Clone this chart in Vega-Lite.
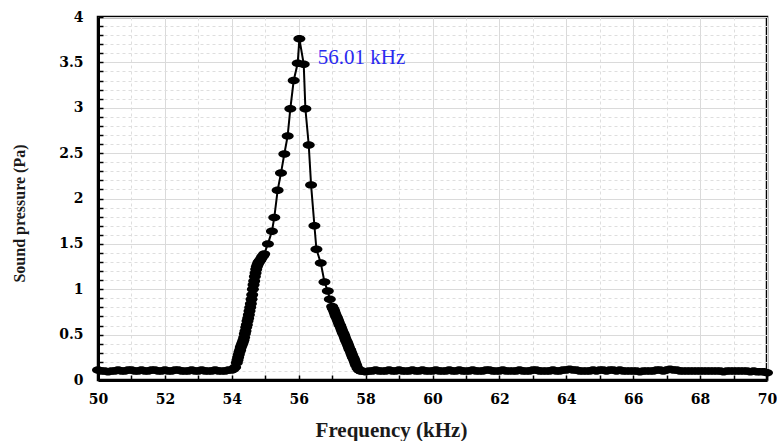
{
  "$schema": "https://vega.github.io/schema/vega-lite/v6.json",
  "width": 669,
  "height": 363,
  "autosize": {"type": "none"},
  "padding": {"left": 98, "top": 17, "right": 10, "bottom": 61},
  "background": "white",
  "config": {
    "view": {"stroke": "black", "strokeWidth": 2.5},
    "axis": {
      "domainColor": "black",
      "domainWidth": 3,
      "tickColor": "black",
      "tickWidth": 1.5,
      "tickSize": -5,
      "labelFlush": false,
      "labelOverlap": false,
      "labelFont": "DejaVu Serif",
      "labelFontWeight": "bold",
      "labelFontSize": 14,
      "labelColor": "black",
      "titleFont": "Liberation Serif",
      "titleFontWeight": "bold",
      "titleColor": "#1a1a1a"
    }
  },
  "encoding": {
    "x": {
      "field": "f", "type": "quantitative",
      "scale": {"domain": [50, 70], "nice": false, "zero": false},
      "axis": {
        "title": "Frequency (kHz)",
        "titleFontSize": 21,
        "titleX": 293,
        "titleY": 56,
        "titleAlign": "center",
        "titleBaseline": "alphabetic",
        "values": [50,51,52,53,54,55,56,57,58,59,60,61,62,63,64,65,66,67,68,69,70],
        "labelExpr": "datum.value % 2 == 0 ? datum.label : ''",
        "labelPadding": 17,
        "gridColor": {"condition": {"test": "datum.value % 2 == 0", "value": "#dadada"}, "value": "#dedede"},
        "gridDash": {"condition": {"test": "datum.value % 2 == 0", "value": []}, "value": [3, 3]},
        "gridWidth": 1
      }
    },
    "y": {
      "field": "p", "type": "quantitative",
      "scale": {"domain": [0, 4], "nice": false},
      "axis": {
        "title": "Sound pressure (Pa)",
        "titleFontSize": 16,
        "titleX": -74,
        "titleY": 196,
        "titleAlign": "center",
        "titleBaseline": "alphabetic",
        "titleAngle": -90,
        "values": [0,0.1,0.2,0.3,0.4,0.5,0.6,0.7,0.8,0.9,1,1.1,1.2,1.3,1.4,1.5,1.6,1.7,1.8,1.9,2,2.1,2.2,2.3,2.4,2.5,2.6,2.7,2.8,2.9,3,3.1,3.2,3.3,3.4,3.5,3.6,3.7,3.8,3.9,4],
        "labelExpr": "abs(round(datum.value*10)) % 5 == 0 ? format(datum.value, '~g') : ''",
        "labelPadding": 20,
        "gridColor": {"condition": {"test": "abs(round(datum.value*10)) % 5 == 0", "value": "#dadada"}, "value": "#dedede"},
        "gridDash": {"condition": {"test": "abs(round(datum.value*10)) % 5 == 0", "value": []}, "value": [3, 3]},
        "gridWidth": 1
      }
    }
  },
  "layer": [
    {
      "data": {
        "values": [
          {"f": 50.0, "p": 0.11}, {"f": 50.1, "p": 0.10}, {"f": 50.2, "p": 0.10}, {"f": 50.3, "p": 0.09}, {"f": 50.4, "p": 0.10},
          {"f": 50.5, "p": 0.10}, {"f": 50.6, "p": 0.11}, {"f": 50.7, "p": 0.10}, {"f": 50.8, "p": 0.10}, {"f": 50.9, "p": 0.11},
          {"f": 51.0, "p": 0.11}, {"f": 51.1, "p": 0.10}, {"f": 51.2, "p": 0.10}, {"f": 51.3, "p": 0.11}, {"f": 51.4, "p": 0.10},
          {"f": 51.5, "p": 0.10}, {"f": 51.6, "p": 0.11}, {"f": 51.7, "p": 0.11}, {"f": 51.8, "p": 0.10}, {"f": 51.9, "p": 0.10},
          {"f": 52.0, "p": 0.11}, {"f": 52.1, "p": 0.10}, {"f": 52.2, "p": 0.10}, {"f": 52.3, "p": 0.11}, {"f": 52.4, "p": 0.11},
          {"f": 52.5, "p": 0.10}, {"f": 52.6, "p": 0.10}, {"f": 52.7, "p": 0.10}, {"f": 52.8, "p": 0.11}, {"f": 52.9, "p": 0.10},
          {"f": 53.0, "p": 0.10}, {"f": 53.1, "p": 0.11}, {"f": 53.2, "p": 0.10}, {"f": 53.3, "p": 0.10}, {"f": 53.4, "p": 0.10},
          {"f": 53.5, "p": 0.11}, {"f": 53.6, "p": 0.10}, {"f": 53.7, "p": 0.10}, {"f": 53.8, "p": 0.10}, {"f": 53.9, "p": 0.11},
          {"f": 54.0, "p": 0.11}, {"f": 54.05, "p": 0.12}, {"f": 54.1, "p": 0.14}, {"f": 54.15, "p": 0.19},
          {"f": 54.17, "p": 0.22}, {"f": 54.19, "p": 0.25}, {"f": 54.21, "p": 0.28}, {"f": 54.23, "p": 0.31}, {"f": 54.25, "p": 0.33},
          {"f": 54.27, "p": 0.36}, {"f": 54.29, "p": 0.38}, {"f": 54.31, "p": 0.40}, {"f": 54.33, "p": 0.42}, {"f": 54.35, "p": 0.44},
          {"f": 54.37, "p": 0.47}, {"f": 54.39, "p": 0.51}, {"f": 54.41, "p": 0.54}, {"f": 54.43, "p": 0.58}, {"f": 54.45, "p": 0.61},
          {"f": 54.47, "p": 0.65}, {"f": 54.49, "p": 0.68}, {"f": 54.51, "p": 0.72}, {"f": 54.53, "p": 0.76}, {"f": 54.55, "p": 0.80},
          {"f": 54.57, "p": 0.84}, {"f": 54.59, "p": 0.89}, {"f": 54.61, "p": 0.94}, {"f": 54.63, "p": 1.00}, {"f": 54.65, "p": 1.05},
          {"f": 54.67, "p": 1.09}, {"f": 54.69, "p": 1.14}, {"f": 54.71, "p": 1.18}, {"f": 54.73, "p": 1.22}, {"f": 54.75, "p": 1.25},
          {"f": 54.77, "p": 1.27}, {"f": 54.79, "p": 1.29}, {"f": 54.81, "p": 1.30}, {"f": 54.83, "p": 1.31}, {"f": 54.85, "p": 1.32},
          {"f": 54.88, "p": 1.34}, {"f": 54.91, "p": 1.36}, {"f": 54.94, "p": 1.37}, {"f": 54.97, "p": 1.39},
          {"f": 55.08, "p": 1.50}, {"f": 55.20, "p": 1.64}, {"f": 55.27, "p": 1.79}, {"f": 55.37, "p": 2.09}, {"f": 55.47, "p": 2.28},
          {"f": 55.57, "p": 2.49}, {"f": 55.67, "p": 2.69}, {"f": 55.75, "p": 2.99}, {"f": 55.85, "p": 3.30}, {"f": 55.97, "p": 3.49},
          {"f": 56.02, "p": 3.76},
          {"f": 56.15, "p": 3.48}, {"f": 56.20, "p": 2.99}, {"f": 56.30, "p": 2.59}, {"f": 56.37, "p": 2.15}, {"f": 56.47, "p": 1.70},
          {"f": 56.53, "p": 1.44}, {"f": 56.66, "p": 1.29}, {"f": 56.77, "p": 1.08}, {"f": 56.87, "p": 0.98}, {"f": 56.93, "p": 0.89},
          {"f": 57.00, "p": 0.81}, {"f": 57.02, "p": 0.79}, {"f": 57.04, "p": 0.78}, {"f": 57.06, "p": 0.76}, {"f": 57.08, "p": 0.74},
          {"f": 57.10, "p": 0.72}, {"f": 57.12, "p": 0.70}, {"f": 57.14, "p": 0.69}, {"f": 57.16, "p": 0.67}, {"f": 57.18, "p": 0.65},
          {"f": 57.20, "p": 0.63}, {"f": 57.22, "p": 0.61}, {"f": 57.24, "p": 0.60}, {"f": 57.26, "p": 0.58}, {"f": 57.28, "p": 0.56},
          {"f": 57.30, "p": 0.54}, {"f": 57.32, "p": 0.52}, {"f": 57.34, "p": 0.51}, {"f": 57.36, "p": 0.49}, {"f": 57.38, "p": 0.47},
          {"f": 57.40, "p": 0.45}, {"f": 57.42, "p": 0.43}, {"f": 57.44, "p": 0.42}, {"f": 57.46, "p": 0.40}, {"f": 57.48, "p": 0.38},
          {"f": 57.50, "p": 0.36}, {"f": 57.52, "p": 0.34}, {"f": 57.54, "p": 0.33}, {"f": 57.56, "p": 0.31}, {"f": 57.58, "p": 0.29},
          {"f": 57.60, "p": 0.27}, {"f": 57.62, "p": 0.25}, {"f": 57.64, "p": 0.24}, {"f": 57.66, "p": 0.22}, {"f": 57.68, "p": 0.20},
          {"f": 57.70, "p": 0.18}, {"f": 57.72, "p": 0.16}, {"f": 57.76, "p": 0.13}, {"f": 57.80, "p": 0.11}, {"f": 57.85, "p": 0.10},
          {"f": 57.9, "p": 0.10}, {"f": 58.0, "p": 0.09}, {"f": 58.1, "p": 0.10}, {"f": 58.2, "p": 0.10}, {"f": 58.3, "p": 0.11},
          {"f": 58.4, "p": 0.10}, {"f": 58.5, "p": 0.10}, {"f": 58.6, "p": 0.10}, {"f": 58.7, "p": 0.11}, {"f": 58.8, "p": 0.10},
          {"f": 58.9, "p": 0.10}, {"f": 59.0, "p": 0.11}, {"f": 59.1, "p": 0.10}, {"f": 59.2, "p": 0.10}, {"f": 59.3, "p": 0.10},
          {"f": 59.4, "p": 0.11}, {"f": 59.5, "p": 0.10}, {"f": 59.6, "p": 0.10}, {"f": 59.7, "p": 0.11}, {"f": 59.8, "p": 0.10},
          {"f": 59.9, "p": 0.10}, {"f": 60.0, "p": 0.10}, {"f": 60.1, "p": 0.11}, {"f": 60.2, "p": 0.10}, {"f": 60.3, "p": 0.10},
          {"f": 60.4, "p": 0.10}, {"f": 60.5, "p": 0.11}, {"f": 60.6, "p": 0.10}, {"f": 60.7, "p": 0.10}, {"f": 60.8, "p": 0.11},
          {"f": 60.9, "p": 0.10}, {"f": 61.0, "p": 0.10}, {"f": 61.1, "p": 0.10}, {"f": 61.2, "p": 0.11}, {"f": 61.3, "p": 0.10},
          {"f": 61.4, "p": 0.10}, {"f": 61.5, "p": 0.10}, {"f": 61.6, "p": 0.11}, {"f": 61.7, "p": 0.11}, {"f": 61.8, "p": 0.10},
          {"f": 61.9, "p": 0.10}, {"f": 62.0, "p": 0.10}, {"f": 62.1, "p": 0.11}, {"f": 62.2, "p": 0.10}, {"f": 62.3, "p": 0.10},
          {"f": 62.4, "p": 0.10}, {"f": 62.5, "p": 0.10}, {"f": 62.6, "p": 0.11}, {"f": 62.7, "p": 0.10}, {"f": 62.8, "p": 0.10},
          {"f": 62.9, "p": 0.10}, {"f": 63.0, "p": 0.11}, {"f": 63.1, "p": 0.11}, {"f": 63.2, "p": 0.10}, {"f": 63.3, "p": 0.10},
          {"f": 63.4, "p": 0.10}, {"f": 63.5, "p": 0.10}, {"f": 63.6, "p": 0.11}, {"f": 63.7, "p": 0.10}, {"f": 63.8, "p": 0.10},
          {"f": 63.9, "p": 0.11}, {"f": 64.0, "p": 0.11}, {"f": 64.1, "p": 0.12}, {"f": 64.2, "p": 0.11}, {"f": 64.3, "p": 0.11},
          {"f": 64.4, "p": 0.10}, {"f": 64.5, "p": 0.10}, {"f": 64.6, "p": 0.10}, {"f": 64.7, "p": 0.10}, {"f": 64.8, "p": 0.11},
          {"f": 64.9, "p": 0.10}, {"f": 65.0, "p": 0.11}, {"f": 65.1, "p": 0.11}, {"f": 65.2, "p": 0.10}, {"f": 65.3, "p": 0.11},
          {"f": 65.4, "p": 0.11}, {"f": 65.5, "p": 0.10}, {"f": 65.6, "p": 0.11}, {"f": 65.7, "p": 0.10}, {"f": 65.8, "p": 0.10},
          {"f": 65.9, "p": 0.10}, {"f": 66.0, "p": 0.10}, {"f": 66.1, "p": 0.10}, {"f": 66.2, "p": 0.09}, {"f": 66.3, "p": 0.10},
          {"f": 66.4, "p": 0.10}, {"f": 66.5, "p": 0.10}, {"f": 66.6, "p": 0.10}, {"f": 66.7, "p": 0.11}, {"f": 66.8, "p": 0.11},
          {"f": 66.9, "p": 0.10}, {"f": 67.0, "p": 0.11}, {"f": 67.1, "p": 0.12}, {"f": 67.2, "p": 0.11}, {"f": 67.3, "p": 0.11},
          {"f": 67.4, "p": 0.10}, {"f": 67.5, "p": 0.10}, {"f": 67.6, "p": 0.10}, {"f": 67.7, "p": 0.10}, {"f": 67.8, "p": 0.10},
          {"f": 67.9, "p": 0.10}, {"f": 68.0, "p": 0.10}, {"f": 68.1, "p": 0.10}, {"f": 68.2, "p": 0.10}, {"f": 68.3, "p": 0.10},
          {"f": 68.4, "p": 0.10}, {"f": 68.5, "p": 0.10}, {"f": 68.6, "p": 0.10}, {"f": 68.7, "p": 0.09}, {"f": 68.8, "p": 0.10},
          {"f": 68.9, "p": 0.10}, {"f": 69.0, "p": 0.10}, {"f": 69.1, "p": 0.10}, {"f": 69.2, "p": 0.10}, {"f": 69.3, "p": 0.10},
          {"f": 69.4, "p": 0.10}, {"f": 69.5, "p": 0.09}, {"f": 69.6, "p": 0.10}, {"f": 69.7, "p": 0.09}, {"f": 69.8, "p": 0.09},
          {"f": 69.9, "p": 0.09}, {"f": 70.0, "p": 0.08}
        ]
      },
      "layer": [
        {"mark": {"type": "line", "color": "black", "strokeWidth": 2}},
        {"mark": {"type": "point", "filled": true, "color": "black", "opacity": 1, "size": 144,
                  "shape": "M -1 0 A 1 0.62 0 1 1 1 0 A 1 0.62 0 1 1 -1 0 Z"}}
      ]
    },
    {
      "data": {"values": [{"f": 56.57, "p": 3.48, "label": "56.01 kHz"}]},
      "mark": {"type": "text", "align": "left", "baseline": "alphabetic", "font": "Liberation Serif", "fontSize": 21, "color": "#2a2af0"},
      "encoding": {
        "text": {"field": "label"}
      }
    }
  ]
}
